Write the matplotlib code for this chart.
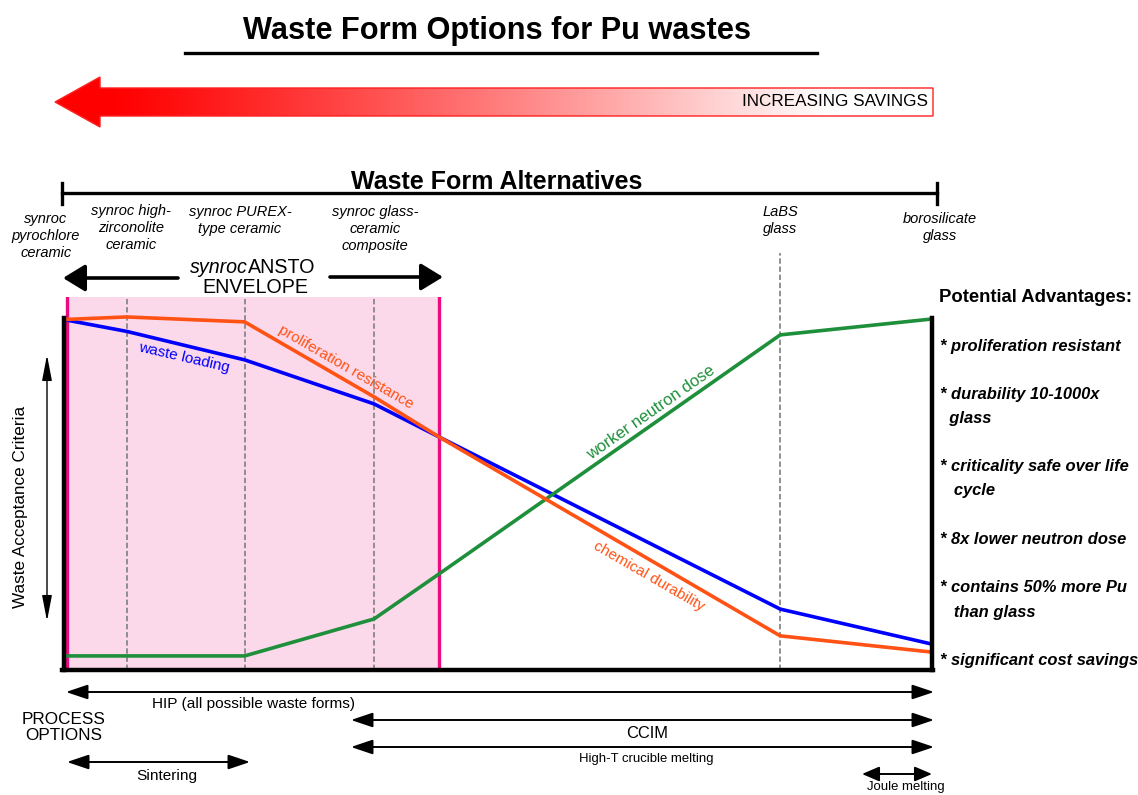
import matplotlib
matplotlib.use('Agg')
import matplotlib.pyplot as plt
from matplotlib import font_manager
from matplotlib.patches import Polygon
import numpy as np

# fonts
names = {f.name for f in font_manager.fontManager.ttflist}
NARROW = 'Liberation Sans Narrow' in names
nf = 'Liberation Sans Narrow' if NARROW else 'Liberation Sans'
k = 1.0 if NARROW else 0.82
plt.rcParams['font.family'] = ['Liberation Sans', 'DejaVu Sans']

# data (x: position along waste form axis 0-100, y: acceptance criteria 0-100)
form_x = [0.2, 7.1, 20.7, 35.6, 43.1, 82.4, 99.8]
waste_loading = [99.4, 96.2, 88.1, 75.6, 66.2, 17.3, 7.4]
prolif_resist = [99.6, 100.3, 98.9, 77.6, 66.2, 9.7, 5.1]
neutron_dose = [4.0, 4.0, 4.0, 14.5, 27.3, 95.2, 99.7]
envelope = (0.2, 43.1)
divider_x = [7.1, 20.7, 35.6]
labs_x = 82.4

forms = [['synroc', 'pyrochlore', 'ceramic'],
         ['synroc high-', 'zirconolite', 'ceramic'],
         ['synroc PUREX-', 'type ceramic'],
         ['synroc glass-', 'ceramic', 'composite'],
         ['LaBS', 'glass'],
         ['borosilicate', 'glass']]
advantages = ['* proliferation resistant', '* durability 10-1000x', '  glass',
              '* criticality safe over life', '   cycle', '* 8x lower neutron dose',
              '* contains 50% more Pu', '   than glass', '* significant cost savings']
processes = ['HIP (all possible waste forms)', 'CCIM', 'High-T crucible melting',
             'Sintering', 'Joule melting']

W, H = 1138, 795
fig = plt.figure(figsize=(W / 100, H / 100), dpi=100)

BLUE = '#0000FF'
ORANGE = '#FF5214'
GREEN = '#1E8F3A'
PINK = '#FCD9EA'
MAGENTA = '#EC0A80'

# main criteria panel
ax = fig.add_axes([65 / W, (H - 670) / H, 868 / W, 373 / H])
ax.set_xlim(0, 100)
ax.set_ylim(0, 373 / 352 * 100)
ax.axis('off')
top = 373 / 352 * 100
ax.axvspan(envelope[0], envelope[1], color=PINK, lw=0, zorder=0)
for xe in envelope:
    ax.plot([xe, xe], [0, top], color=MAGENTA, lw=2.4, zorder=1)
ax.vlines(divider_x, 0, top, colors='#888888', linestyles=(0, (3, 1.5)), lw=1.3, zorder=1)
ax.vlines([labs_x], 0, (670 - 253) / 352 * 100, colors='#888888',
          linestyles=(0, (3, 1.5)), lw=1.3, zorder=1, clip_on=False)
ax.plot(form_x, waste_loading, color=BLUE, lw=2.6, zorder=3, solid_joinstyle='round')
ax.plot(form_x, prolif_resist, color=ORANGE, lw=2.6, zorder=4, solid_joinstyle='round')
ax.plot(form_x, neutron_dose, color=GREEN, lw=2.6, zorder=3, solid_joinstyle='round')
# frame
ax.plot([-0.1, -0.1], [0, 100], color='k', lw=3.2, zorder=5, clip_on=False)
ax.plot([-0.3, 100], [0, 0], color='k', lw=3.2, zorder=5, clip_on=False)
ax.plot([99.9, 99.9], [0, 100], color='k', lw=3.2, zorder=5, clip_on=False)

# overlay in pixel coordinates
ov = fig.add_axes([0, 0, 1, 1], zorder=10)
ov.patch.set_alpha(0)
ov.set_xlim(0, W)
ov.set_ylim(H, 0)
ov.axis('off')

ov.text(497, 31, 'Waste Form Options for Pu wastes', fontsize=27 * k, fontweight='bold',
        family=nf, ha='center', va='center')
ov.plot([185, 817], [53, 53], color='k', lw=2.4)

# savings arrow
pts = [(55, 102), (100, 77), (100, 88), (933, 88), (933, 116), (100, 116), (100, 127)]
grad_x = np.linspace(55, 933, 400)
wv = np.clip((grad_x - 110) / 720, 0, 1) ** 1.15
img = np.dstack([np.ones_like(wv), wv, wv])
im = ov.imshow(img, extent=(55, 933, 128, 76), aspect='auto', zorder=1, interpolation='bilinear')
poly = Polygon(pts, closed=True, fc='none', ec='#FF2020', lw=1, zorder=2)
ov.add_patch(poly)
im.set_clip_path(poly)
ov.set_xlim(0, W)
ov.set_ylim(H, 0)
ov.text(928, 102, 'INCREASING SAVINGS', fontsize=15 * k, family=nf, ha='right', va='center', zorder=3)

# alternatives bar
ov.text(497, 182, 'Waste Form Alternatives', fontsize=22 * k, fontweight='bold',
        family=nf, ha='center', va='center')
ov.plot([62, 937], [193, 193], color='k', lw=2.4)
ov.plot([62, 62], [183, 204], color='k', lw=2.4)
ov.plot([937, 937], [183, 204], color='k', lw=2.4)

form_pos = [(46, 219), (131, 211), (240, 212), (375, 212), (780, 212), (940, 219)]
for (fx, fy), lines in zip(form_pos, forms):
    for i, s in enumerate(lines):
        ov.text(fx, fy + i * 17, s, fontsize=10.5, style='italic', ha='center', va='center')

# synroc ANSTO envelope
ov.text(248, 273, 'synroc', fontsize=16 * k + 1, style='italic', family=nf, ha='right', va='baseline')
ov.text(248, 273, 'ANSTO', fontsize=16 * k + 1, family=nf, ha='left', va='baseline')
ov.text(255, 293, 'ENVELOPE', fontsize=16 * k + 1, family=nf, ha='center', va='baseline')
big = dict(arrowstyle='-|>,head_length=0.9,head_width=0.55', color='k', lw=2.6,
           mutation_scale=15, shrinkA=0, shrinkB=0)
ov.annotate('', xy=(63, 278), xytext=(178, 278), arrowprops=big)
ov.annotate('', xy=(443, 277), xytext=(330, 277), arrowprops=big)

# left criteria axis
thin = dict(arrowstyle='<|-|>,head_length=1.3,head_width=0.25', color='k', lw=1.0,
            mutation_scale=12, shrinkA=0, shrinkB=0)
ov.annotate('', xy=(47, 355), xytext=(47, 621), arrowprops=thin)
ov.text(21, 507, 'Waste Acceptance Criteria', fontsize=15 * k, family=nf, rotation=90,
        ha='center', va='center')

# curve labels
ov.text(184, 358, 'waste loading', color=BLUE, fontsize=11, rotation=-13, ha='center', va='center')
ov.text(346, 367, 'proliferation resistance', color=ORANGE, fontsize=11, rotation=-30,
        ha='center', va='center')
ov.text(651, 413, 'worker neutron dose', color=GREEN, fontsize=12, rotation=35,
        ha='center', va='center')
ov.text(649, 576, 'chemical durability', color=ORANGE, fontsize=11, rotation=-30,
        ha='center', va='center')

# advantages
ov.text(939, 297, 'Potential Advantages:', fontsize=16.2 * k, fontweight='bold', family=nf,
        ha='left', va='center')
adv_y = [346, 394, 418, 467, 491, 540, 588, 612, 660]
for s, y in zip(advantages, adv_y):
    ov.text(940, y, s, fontsize=14.5 * k, fontweight='bold', style='italic', family=nf,
            ha='left', va='center')

# process options
ov.text(64, 720, 'PROCESS', fontsize=15 * k, family=nf, ha='center', va='center')
ov.text(64, 736, 'OPTIONS', fontsize=15 * k, family=nf, ha='center', va='center')
spans = [(66, 934, 692), (351, 934, 720), (351, 934, 747), (67, 250, 762), (862, 932, 774)]
text_pos = [(254, 704, 13.5), (647, 733, 14.5), (646, 759, 11.5), (167, 776, 13.5), (906, 787, 11.5)]
for (x0, x1, y), (tx, ty, fs), s in zip(spans, text_pos, processes):
    hl = 0.95 if x1 - x0 > 100 else 0.75
    dbl = dict(arrowstyle='<|-|>,head_length=%.2f,head_width=0.32' % hl, color='k', lw=1.4,
               mutation_scale=14, shrinkA=0, shrinkB=0)
    ov.annotate('', xy=(x0, y), xytext=(x1, y), arrowprops=dbl)
    ov.text(tx, ty, s, fontsize=fs * k, family=nf, ha='center', va='center')

fig.savefig('out.png', dpi=100)
